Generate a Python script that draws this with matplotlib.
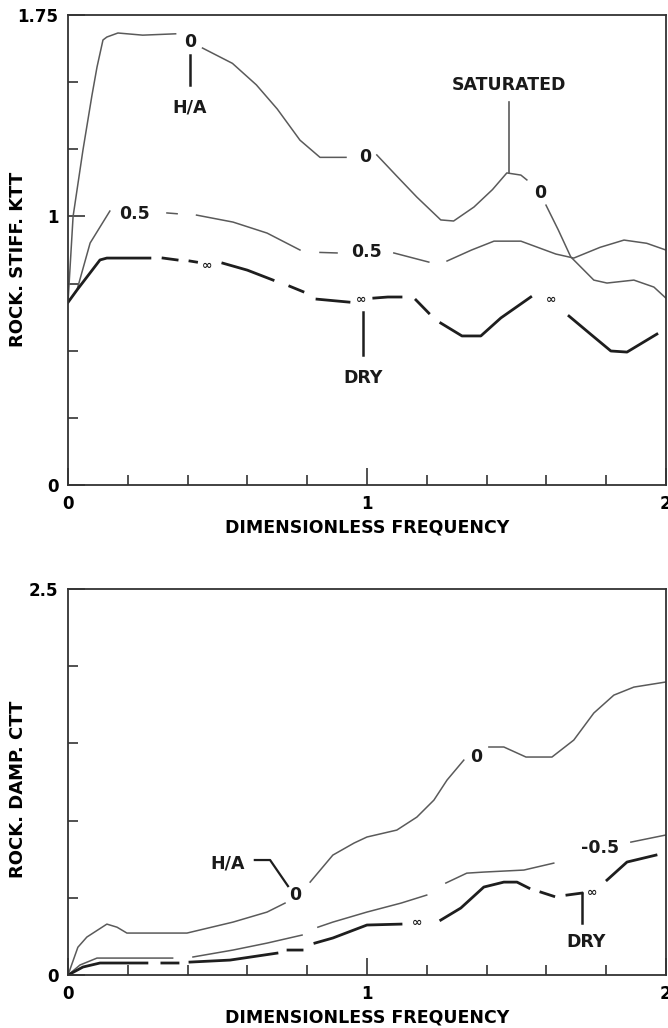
import matplotlib
matplotlib.use("Agg")
import matplotlib.pyplot as plt
from matplotlib.ticker import MultipleLocator
import numpy as np

nan = np.nan
plt.rcParams['font.family'] = ['DejaVu Sans']
plt.rcParams['font.weight'] = 'bold'
plt.rcParams['axes.labelweight'] = 'bold'

# rocking stiffness KTT vs dimensionless frequency (gaps = label breaks)
k_sat_x = [0, 0.017, 0.05, 0.08, 0.097, 0.117, 0.13, 0.167, 0.25, 0.36, nan,
           0.45, 0.55, 0.63, 0.70, 0.776, 0.843, 0.93, nan,
           1.033, 1.10, 1.167, 1.247, 1.29, 1.358, 1.42, 1.468, 1.515, 1.535, nan,
           1.599, 1.64, 1.682, 1.692, 1.759, 1.803, 1.893, 1.96, 2.0]
k_sat_y = [0.68, 1.0, 1.247, 1.45, 1.556, 1.657, 1.668, 1.683, 1.675, 1.68, nan,
           1.627, 1.57, 1.49, 1.40, 1.284, 1.22, 1.22, nan,
           1.229, 1.15, 1.072, 0.987, 0.983, 1.035, 1.10, 1.162, 1.154, 1.136, nan,
           1.042, 0.95, 0.849, 0.838, 0.763, 0.752, 0.763, 0.737, 0.696]

k_half_x = [0, 0.03, 0.074, 0.14, nan, 0.331, 0.365, nan, 0.43, 0.552, 0.666, 0.776, nan,
            0.843, 0.90, nan, 1.09, 1.207, nan,
            1.268, 1.35, 1.425, 1.515, 1.632, 1.692, 1.78, 1.86, 1.936, 2.0]
k_half_y = [0.68, 0.726, 0.901, 1.02, nan, 1.013, 1.010, nan, 1.005, 0.979, 0.938, 0.875, nan,
            0.866, 0.864, nan, 0.864, 0.83, nan,
            0.834, 0.875, 0.908, 0.908, 0.86, 0.845, 0.885, 0.912, 0.90, 0.875]

k_dry_x = [0, 0.03, 0.107, 0.13, 0.274, nan, 0.318, 0.365, nan, 0.408, 0.43, nan,
           0.518, 0.60, 0.686, nan, 0.742, 0.786, nan, 0.833, 0.94, nan,
           1.023, 1.07, 1.114, nan, 1.164, 1.207, nan,
           1.247, 1.318, 1.381, 1.448, 1.548, nan, 1.676, 1.75, 1.816, 1.87, 1.97]
k_dry_y = [0.68, 0.726, 0.838, 0.845, 0.845, nan, 0.845, 0.838, nan, 0.834, 0.83, nan,
           0.826, 0.80, 0.763, nan, 0.74, 0.72, nan, 0.692, 0.681, nan,
           0.696, 0.70, 0.70, nan, 0.689, 0.64, nan,
           0.603, 0.555, 0.555, 0.622, 0.70, nan, 0.629, 0.56, 0.499, 0.495, 0.562]

# rocking damping CTT
c_sat_x = [0, 0.033, 0.063, 0.13, 0.164, 0.197, 0.398, 0.552, 0.666, 0.726, nan,
           0.81, 0.886, 0.957, 1.0, 1.1, 1.167, 1.224, 1.268, 1.324, nan,
           1.408, 1.458, 1.532, 1.619, 1.692, 1.759, 1.826, 1.893, 2.0]
c_sat_y = [0.0, 0.18, 0.246, 0.33, 0.31, 0.272, 0.272, 0.343, 0.408, 0.466, nan,
           0.602, 0.777, 0.855, 0.894, 0.939, 1.023, 1.133, 1.263, 1.392, nan,
           1.477, 1.477, 1.412, 1.412, 1.522, 1.697, 1.813, 1.865, 1.898]

c_half_x = [0, 0.04, 0.097, 0.35, nan, 0.418, 0.552, 0.666, 0.783, nan,
            0.836, 0.886, 1.0, 1.114, 1.2, nan, 1.264, 1.334, 1.391, 1.525, 1.625, nan,
            1.883, 2.0]
c_half_y = [0.0, 0.065, 0.11, 0.11, nan, 0.117, 0.162, 0.207, 0.259, nan,
            0.31, 0.343, 0.408, 0.466, 0.518, nan, 0.596, 0.66, 0.667, 0.68, 0.725, nan,
            0.861, 0.907]

c_dry_x = [0, 0.05, 0.107, 0.264, nan, 0.314, 0.368, nan, 0.408, 0.542, 0.699, nan,
           0.736, 0.783, nan, 0.826, 0.886, 1.0, 1.114, nan,
           1.247, 1.314, 1.391, 1.458, 1.502, 1.542, nan, 1.582, 1.625, nan,
           1.669, 1.719, nan, 1.803, 1.87, 1.967]
c_dry_y = [0.0, 0.052, 0.078, 0.078, nan, 0.078, 0.078, nan, 0.084, 0.097, 0.142, nan,
           0.162, 0.162, nan, 0.207, 0.24, 0.324, 0.33, nan,
           0.356, 0.434, 0.57, 0.602, 0.602, 0.563, nan, 0.537, 0.51, nan,
           0.518, 0.531, nan, 0.615, 0.732, 0.777]

GREY = '#5a5a5a'
DARK = '#1e1e1e'

fig = plt.figure(figsize=(6.68, 10.28), dpi=100)
ax1 = fig.add_axes([0.1018, 0.5282, 0.895, 0.4572])
ax2 = fig.add_axes([0.1018, 0.0515, 0.895, 0.3755])


def style(ax, ymax, ystep, ylabels, ylabel):
    ax.set_xlim(0, 2)
    ax.set_ylim(0, ymax)
    ax.set_xticks([0, 1, 2])
    ax.set_xticklabels(['0', '1', '2'])
    ax.set_yticks(ylabels)
    ax.set_yticklabels([('%g' % v) for v in ylabels])
    ax.xaxis.set_minor_locator(MultipleLocator(0.2))
    ax.yaxis.set_minor_locator(MultipleLocator(ystep))
    ax.tick_params(which='both', direction='in', top=False, right=False,
                   color='#333333', width=1.2)
    ax.tick_params(which='major', length=12, labelsize=12, pad=7)
    ax.tick_params(which='minor', length=7)
    for s in ax.spines.values():
        s.set_linewidth(1.3)
        s.set_color('#333333')
    ax.set_xlabel('DIMENSIONLESS FREQUENCY', fontsize=12.5, labelpad=4)
    ax.set_ylabel(ylabel, fontsize=13)
    ax.yaxis.set_label_coords(-0.068, 0.48)


style(ax1, 1.75, 0.25, [0, 1, 1.75], 'ROCK. STIFF. KTT')
style(ax2, 2.5, 0.5, [0, 2.5], 'ROCK. DAMP. CTT')

ax1.plot(k_sat_x, k_sat_y, color=GREY, lw=1.1)
ax1.plot(k_half_x, k_half_y, color=GREY, lw=1.1)
ax1.plot(k_dry_x, k_dry_y, color=DARK, lw=2.0)

ax2.plot(c_sat_x, c_sat_y, color=GREY, lw=1.1)
ax2.plot(c_half_x, c_half_y, color=GREY, lw=1.1)
ax2.plot(c_dry_x, c_dry_y, color=DARK, lw=2.0)

lab = dict(fontsize=12.5, ha='center', va='center', color='#1a1a1a')
sm = dict(fontsize=9, ha='center', va='center', color='#1a1a1a')

# top panel labels
ax1.text(0.408, 1.649, '0', **lab)
ax1.plot([0.408, 0.408], [1.60, 1.49], color=DARK, lw=1.8)
ax1.text(0.408, 1.404, 'H/A', **lab)
ax1.text(0.993, 1.221, '0', **lab)
ax1.text(1.475, 1.489, 'SATURATED', **lab)
ax1.plot([1.475, 1.475], [1.426, 1.162], color=GREY, lw=1.2)
ax1.text(1.579, 1.087, '0', **lab)
ax1.text(0.224, 1.009, '0.5', **lab)
ax1.text(1.0, 0.867, '0.5', **lab)
ax1.text(0.465, 0.819, '\u221e', **sm)
ax1.text(0.98, 0.689, '\u221e', **sm)
ax1.text(1.615, 0.689, '\u221e', **sm)
ax1.plot([0.987, 0.987], [0.644, 0.484], color=DARK, lw=1.8)
ax1.text(0.987, 0.398, 'DRY', **lab)

# bottom panel labels
ax2.text(0.535, 0.725, 'H/A', **lab)
ax2.plot([0.625, 0.676, 0.736], [0.745, 0.745, 0.576], color=DARK, lw=1.6)
ax2.text(0.759, 0.518, '0', **lab)
ax2.text(1.365, 1.412, '0', **lab)
ax2.text(1.779, 0.822, '-0.5', **lab)
ax2.text(1.167, 0.343, '\u221e', **sm)
ax2.text(1.752, 0.537, '\u221e', **sm)
ax2.plot([1.719, 1.719], [0.531, 0.337], color=DARK, lw=1.8)
ax2.text(1.732, 0.214, 'DRY', **lab)

fig.savefig('out.png', dpi=100)
